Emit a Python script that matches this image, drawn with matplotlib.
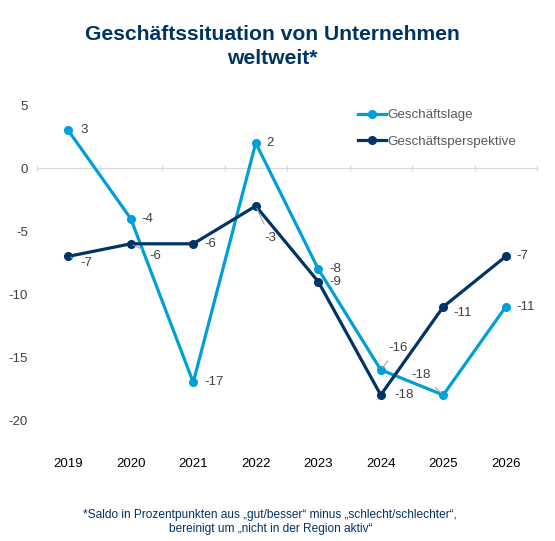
import matplotlib.pyplot as plt

plt.rcParams["font.family"] = ["Liberation Sans", "DejaVu Sans"]
plt.rcParams["axes.unicode_minus"] = False

# Data
years = ["2019", "2020", "2021", "2022", "2023", "2024", "2025", "2026"]
lage = [3, -4, -17, 2, -8, -16, -18, -11]
perspektive = [-7, -6, -6, -3, -9, -18, -11, -7]

# label offsets in pixels (dx, dy) and whether a leader line is drawn
lage_offsets = [(12, 0), (11, 0), (11, 0), (11, 0), (11, 0), (8, 22), (-12, 20), (11, 0)]
lage_leader = [False, False, False, False, False, True, True, False]
persp_offsets = [(12, -7), (19, -12), (11, 0), (9, -32), (11, 0), (14, 0), (10, -6), (11, 0)]
persp_leader = [True, True, False, True, False, False, False, False]

light_blue = "#009FDA"
navy = "#003366"
label_col = "#404040"

fig = plt.figure(figsize=(5.55, 5.41), dpi=100)
ax = fig.add_axes([37 / 555, 1 - 458 / 541, 500 / 555, 378 / 541])

x = list(range(len(years)))
ax.plot(x, lage, color=light_blue, lw=2.3, marker="o", ms=5.5, label="Geschäftslage", zorder=3)
ax.plot(x, perspektive, color=navy, lw=2.3, marker="o", ms=5.5, label="Geschäftsperspektive", zorder=3)

ax.set_xlim(-0.5, 7.5)
ax.set_ylim(-23, 7)

# zero line as axis with category tick marks
for s in ["top", "right", "left"]:
    ax.spines[s].set_visible(False)
ax.spines["bottom"].set_position(("data", 0))
ax.spines["bottom"].set_color("#D9D9D9")
ax.set_xticks([i - 0.5 for i in range(len(years) + 1)])
ax.set_xticklabels([])
ax.tick_params(axis="x", length=4, color="#D9D9D9", direction="inout")
ax.set_yticks([5, 0, -5, -10, -15, -20])
ax.tick_params(axis="y", length=0, labelsize=9.5, labelcolor="#404040", pad=6.5)

for i, y in enumerate(years):
    ax.annotate(y, (i, -23), xytext=(0, -6), textcoords="offset pixels",
                ha="center", va="center", fontsize=9.5, color="black")


def add_labels(values, offsets, leaders):
    for i, (v, off, lead) in enumerate(zip(values, offsets, leaders)):
        dx, dy = off
        ha = "left" if dx > 0 else "right"
        arrow = dict(arrowstyle="-", color="#A6A6A6", lw=0.8, shrinkA=4, shrinkB=2) if lead else None
        ax.annotate(str(v), (i, v), xytext=(dx, dy), textcoords="offset pixels",
                    ha=ha, va="center", fontsize=9.5, color=label_col,
                    arrowprops=arrow, zorder=4)


add_labels(lage, lage_offsets, lage_leader)
add_labels(perspektive, persp_offsets, persp_leader)

fig.legend(loc="upper left", bbox_to_anchor=(346 / 555, 1 - 97 / 541), frameon=False,
           fontsize=9.6, handlelength=2.1, labelspacing=1.05, handletextpad=0.1,
           labelcolor="#595959")

fig.text(0.49, 1 - 34 / 541, "Geschäftssituation von Unternehmen", ha="center", va="center",
         fontsize=15.2, fontweight="bold", color=navy)
fig.text(0.49, 1 - 59 / 541, "weltweit*", ha="center", va="center",
         fontsize=15.2, fontweight="bold", color=navy)

fig.text(0.487, 1 - 515 / 541, "*Saldo in Prozentpunkten aus „gut/besser“ minus „schlecht/schlechter“,",
         ha="center", va="center", fontsize=8.6, color=navy)
fig.text(0.487, 1 - 529 / 541, "bereinigt um „nicht in der Region aktiv“",
         ha="center", va="center", fontsize=8.6, color=navy)

fig.savefig("out.png", dpi=100)
